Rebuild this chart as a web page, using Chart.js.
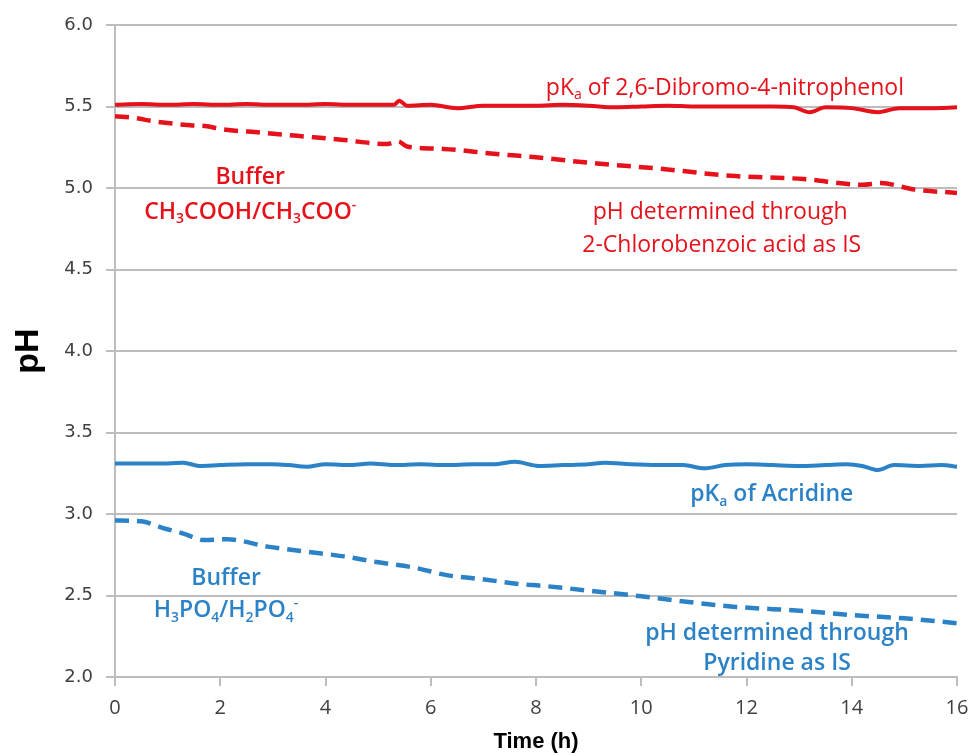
<!DOCTYPE html>
<html>
<head>
<meta charset="utf-8">
<script src="https://cdn.jsdelivr.net/npm/chart.js@4.4.1/dist/chart.umd.min.js"></script>
<style>
  html, body { margin: 0; padding: 0; background: #fff; }
  #wrap { width: 970px; height: 756px; position: relative; }
</style>
</head>
<body>
<div id="wrap"><canvas id="phChart"></canvas></div>
<script>
// values (time in h, pH)
const redSolidTime = [0, 0.5, 1, 1.5, 2, 2.5, 3, 3.5, 4, 4.5, 5, 5.3, 5.4, 5.55, 6, 6.5, 7, 7.5, 8, 8.5, 9, 9.5, 10, 10.5, 11, 11.5, 12, 12.5, 12.9, 13.2, 13.5, 14, 14.5, 14.9, 15.5, 16];
const redSolidPH = [5.51, 5.515, 5.51, 5.515, 5.51, 5.515, 5.51, 5.51, 5.515, 5.51, 5.51, 5.51, 5.535, 5.505, 5.51, 5.49, 5.505, 5.505, 5.505, 5.51, 5.505, 5.495, 5.50, 5.505, 5.50, 5.50, 5.50, 5.50, 5.495, 5.465, 5.495, 5.49, 5.465, 5.49, 5.49, 5.495];

const redDashTime = [0, 0.38, 0.72, 1.43, 1.71, 2.05, 2.76, 3.46, 4.34, 5.17, 5.38, 5.55, 6.24, 7.19, 7.95, 9.16, 10.3, 11.7, 13.08, 14.2, 14.55, 15.2, 16];
const redDashPH = [5.44, 5.43, 5.41, 5.385, 5.38, 5.36, 5.34, 5.32, 5.295, 5.27, 5.285, 5.255, 5.24, 5.21, 5.19, 5.15, 5.12, 5.075, 5.055, 5.02, 5.03, 4.99, 4.97];

const blueSolidTime = [0, 0.5, 1, 1.3, 1.6, 2, 2.5, 3, 3.3, 3.64, 4, 4.5, 4.85, 5.3, 5.8, 6.3, 6.8, 7.2, 7.6, 8.05, 8.5, 9, 9.3, 9.8, 10.3, 10.8, 11.2, 11.6, 12, 12.5, 13, 13.5, 13.9, 14.2, 14.5, 14.8, 15.3, 15.7, 16];
const blueSolidPH = [3.31, 3.31, 3.31, 3.315, 3.295, 3.30, 3.305, 3.305, 3.30, 3.29, 3.305, 3.30, 3.31, 3.30, 3.305, 3.30, 3.305, 3.305, 3.32, 3.295, 3.30, 3.305, 3.315, 3.305, 3.30, 3.30, 3.28, 3.30, 3.305, 3.30, 3.295, 3.30, 3.305, 3.295, 3.27, 3.30, 3.295, 3.30, 3.29];

const blueDashTime = [0, 0.5, 0.9, 1.3, 1.7, 2.13, 2.9, 3.6, 4.35, 4.97, 5.7, 6.3, 6.97, 7.7, 8.1, 9.28, 10, 10.9, 11.8, 13.1, 14, 15, 16];
const blueDashPH = [2.96, 2.955, 2.915, 2.88, 2.84, 2.845, 2.80, 2.77, 2.74, 2.705, 2.67, 2.625, 2.60, 2.57, 2.56, 2.52, 2.495, 2.46, 2.43, 2.405, 2.38, 2.36, 2.33];

const yTicks = [2.0, 2.5, 3.0, 3.5, 4.0, 4.5, 5.0, 5.5, 6.0];
const xTicks = [0, 2, 4, 6, 8, 10, 12, 14, 16];

const RED = '#E5121C';
const BLUE = '#2C82C6';
const GRID = '#BDBDBD';

function pts(t, v) {
    return t.map(function (x, i) { return { x: x, y: v[i] }; });
}

// annotations: [x (h), y (pH), colour, bold, segments]
const notes = [
    [11.59, 5.613, RED, false, [['pK'], ['a', 'sub'], [' of 2,6-Dibromo-4-nitrophenol']]],
    [2.57, 5.067, RED, true, [['Buffer']]],
    [2.57, 4.853, RED, true, [['CH'], ['3', 'sub'], ['COOH/CH'], ['3', 'sub'], ['COO'], ['-', 'sup']]],
    [11.5, 4.847, RED, false, [['pH determined through']]],
    [11.53, 4.65, RED, false, [['2-Chlorobenzoic acid as IS']]],
    [12.48, 3.117, BLUE, true, [['pK'], ['a', 'sub'], [' of Acridine']]],
    [2.11, 2.607, BLUE, true, [['Buffer']]],
    [2.11, 2.41, BLUE, true, [['H'], ['3', 'sub'], ['PO'], ['4', 'sub'], ['/H'], ['2', 'sub'], ['PO'], ['4', 'sub'], ['-', 'sup']]],
    [12.58, 2.27, BLUE, true, [['pH determined through']]],
    [12.58, 2.086, BLUE, true, [['Pyridine as IS']]]
];

const noteFont = '"Open Sans", sans-serif';
const noteSize = 23;

const notePlugin = {
    id: 'notes',
    afterDatasetsDraw: function (chart) {
        const ctx = chart.ctx;
        const xs = chart.scales.x, ys = chart.scales.y;
        ctx.save();
        ctx.textBaseline = 'middle';
        ctx.textAlign = 'left';
        notes.forEach(function (n) {
            const cx = xs.getPixelForValue(n[0]);
            const cy = ys.getPixelForValue(n[1]);
            const weight = n[3] ? '600 ' : '400 ';
            let total = 0;
            const parts = n[4].map(function (s) {
                const small = s[1] === 'sub' || s[1] === 'sup';
                const size = small ? Math.round(noteSize * 0.62) : noteSize;
                const font = weight + size + 'px ' + noteFont;
                ctx.font = font;
                const w = ctx.measureText(s[0]).width;
                total += w;
                return { text: s[0], font: font, w: w, mode: s[1] || '' };
            });
            let x = cx - total / 2;
            ctx.fillStyle = n[2];
            parts.forEach(function (p) {
                ctx.font = p.font;
                let dy = 0;
                if (p.mode === 'sub') dy = noteSize * 0.32;
                if (p.mode === 'sup') dy = -noteSize * 0.32;
                ctx.fillText(p.text, x, cy + dy);
                x += p.w;
            });
        });
        ctx.restore();
    }
};

const phChart = new Chart(document.getElementById('phChart'), {
    type: 'line',
    data: {
        datasets: [{
            label: 'pKa 2,6-Dibromo-4-nitrophenol',
            data: pts(redSolidTime, redSolidPH),
            borderColor: RED,
            borderWidth: 4,
        }, {
            label: 'pH via 2-Chlorobenzoic acid',
            data: pts(redDashTime, redDashPH),
            borderColor: RED,
            borderWidth: 4.5,
            borderDash: [14, 8],
        }, {
            label: 'pKa Acridine',
            data: pts(blueSolidTime, blueSolidPH),
            borderColor: BLUE,
            borderWidth: 4,
        }, {
            label: 'pH via Pyridine',
            data: pts(blueDashTime, blueDashPH),
            borderColor: BLUE,
            borderWidth: 4.5,
            borderDash: [14, 8],
        }]
    },
    options: {
        responsive: true,
        maintainAspectRatio: false,
        animation: false,
        events: [],
        elements: {
            point: { radius: 0 },
            line: { tension: 0, cubicInterpolationMode: 'monotone', fill: false, borderCapStyle: 'butt' }
        },
        layout: {
            padding: { left: 0, right: 0, top: 25, bottom: 0 }
        },
        scales: {
            x: {
                type: 'linear',
                min: 0,
                max: 16,
                afterFit: function (scale) {
                    scale.height = 79;
                    scale.paddingRight = 13;
                },
                afterBuildTicks: function (scale) {
                    scale.ticks = xTicks.map(function (v) { return { value: v }; });
                },
                grid: {
                    drawOnChartArea: false,
                    drawTicks: true,
                    tickLength: 9,
                    color: GRID,
                    lineWidth: 2
                },
                border: { display: true, color: GRID, width: 2 },
                ticks: {
                    color: '#404040',
                    padding: 10,
                    font: { size: 20, family: '"Open Sans", sans-serif' },
                    callback: function (v) { return v; }
                },
                title: {
                    display: true,
                    text: 'Time (h)',
                    color: '#000',
                    padding: { top: 0, bottom: 1 },
                    font: { size: 22, weight: 'bold', family: '"Liberation Sans", Arial, sans-serif' }
                }
            },
            y: {
                min: 2,
                max: 6,
                afterFit: function (scale) { scale.width = 115; },
                afterBuildTicks: function (scale) {
                    scale.ticks = yTicks.map(function (v) { return { value: v }; });
                },
                grid: {
                    color: GRID,
                    lineWidth: 2,
                    tickLength: 9
                },
                border: { display: true, color: GRID, width: 2 },
                ticks: {
                    color: '#404040',
                    padding: 13,
                    font: { size: 18, family: '"DejaVu Sans", sans-serif' },
                    callback: function (v) { return Number(v).toFixed(1); }
                },
                title: {
                    display: true,
                    text: 'pH',
                    color: '#000',
                    padding: { top: 8, bottom: 0 },
                    font: { size: 34, weight: 'bold', family: '"Liberation Sans", Arial, sans-serif' }
                }
            }
        },
        plugins: {
            legend: { display: false },
            tooltip: { enabled: false },
            title: { display: false }
        }
    },
    plugins: [notePlugin]
});
</script>
</body>
</html>
